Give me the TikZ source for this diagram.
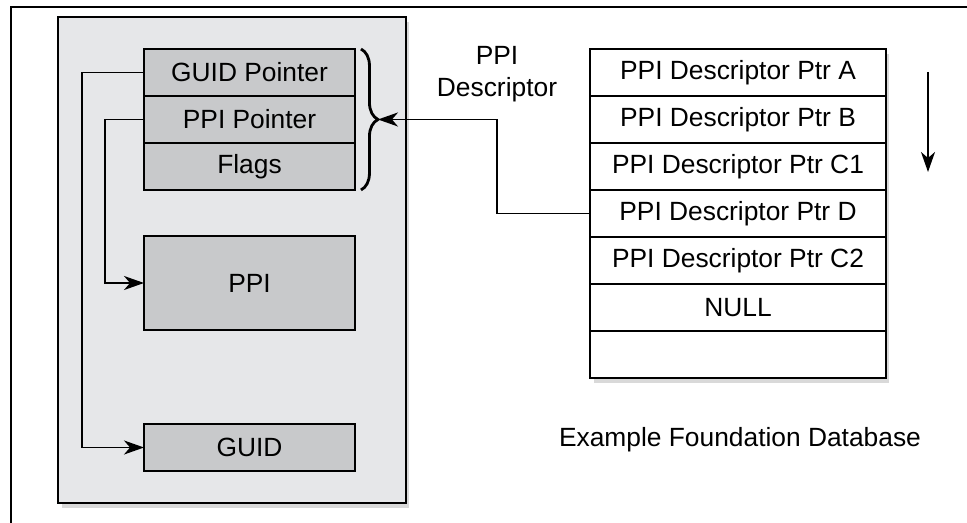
\documentclass[tikz,border=0pt]{standalone}
\usepackage{fontspec}
\setmainfont{Liberation Sans}
\usepackage{xcolor}
\usetikzlibrary{positioning,arrows.meta,shadows,decorations.pathreplacing}
\definecolor{storegray}{HTML}{E6E7E9}
\definecolor{cellgray}{HTML}{C8C9CB}
\begin{document}
\begin{tikzpicture}[
  x=0.02cm, y=-0.02cm,
  node distance=0pt,
  every node/.style={font=\fontsize{15}{18}\selectfont},
  store/.style={draw, line width=1.3pt, fill=storegray, minimum width=6.96cm, minimum height=9.72cm,
    drop shadow={shadow xshift=2pt, shadow yshift=-3pt, opacity=.3}},
  cell/.style={draw, line width=1.2pt, fill=cellgray, minimum width=4.22cm, minimum height=0.94cm, outer sep=0pt},
  entry/.style={draw, line width=1.2pt, fill=white, minimum width=5.92cm, minimum height=0.94cm, outer sep=0pt,
    drop shadow={shadow xshift=2pt, shadow yshift=-3pt, opacity=.3}},
  arr/.style={-{Stealth[length=4mm, width=2.8mm, inset=1.2mm]}, line width=1pt},
  brace/.style={decorate, decoration={brace, amplitude=0.34cm, aspect=0.5}, line width=1.6pt}
]
\useasboundingbox (0,0) rectangle (967,523);
\draw[line width=0.9pt] (11,523) -- (11,7) -- (967,7);

\node[store] (store) at (232,260) {};
\node[cell] (gptr) at (249.5,72.5) {GUID Pointer};
\node[cell, below=of gptr] (pptr) {PPI Pointer};
\node[cell, below=of pptr] (flags) {Flags};
\node[cell, minimum height=1.88cm] (ppi) at (249.5,283) {PPI};
\node[cell] (guid) at (249.5,447.5) {GUID};

\draw[arr] (gptr.west) -- ++(-62,0) |- (guid.west);
\draw[arr] (pptr.west) -- ++(-39,0) |- (ppi.west);
\draw[brace] ([xshift=0.12cm]gptr.north east) -- ([xshift=0.12cm]flags.south east);
\coordinate (tip) at ([xshift=0.46cm]pptr.east);

\node[entry] (ptrA) at (738,72.5) {PPI Descriptor Ptr A};
\node[entry, below=of ptrA] (ptrB) {PPI Descriptor Ptr B};
\node[entry, below=of ptrB] (ptrC1) {PPI Descriptor Ptr C1};
\node[entry, below=of ptrC1] (ptrD) {PPI Descriptor Ptr D};
\node[entry, below=of ptrD] (ptrC2) {PPI Descriptor Ptr C2};
\node[entry, below=of ptrC2] (null) {NULL};
\node[entry, below=of null] (spare) {};

\node[align=center] (desc) at (497,74) {PPI\\Descriptor};
\node (dbname) at (740,440) {Example Foundation Database};

\draw[arr] (ptrD.west) -- ++(-93,0) |- (tip);
\coordinate (dirtop) at (928,72);
\coordinate (dirbot) at (928,172);
\draw[arr] (dirtop) -- (dirbot);
\end{tikzpicture}
\end{document}
